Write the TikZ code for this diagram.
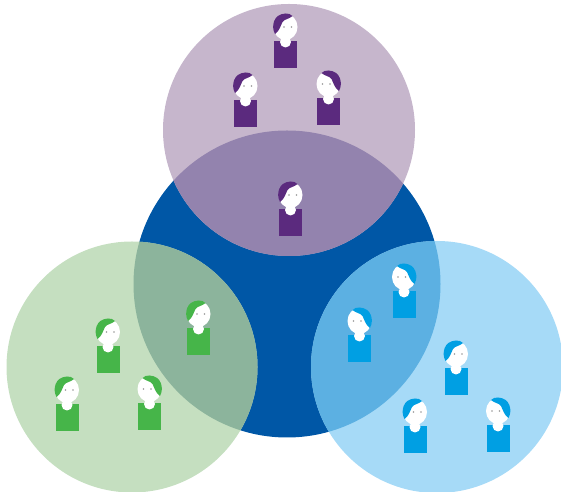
\documentclass[tikz,border=0pt]{standalone}
\usepackage{tikz}
\definecolor{purplelight}{HTML}{C6B6CC}
\definecolor{purplemix}{HTML}{9383AE}
\definecolor{purpledark}{HTML}{5B2A7E}
\definecolor{greenlight}{HTML}{C5DFC0}
\definecolor{greenmix}{HTML}{8CB49C}
\definecolor{greendark}{HTML}{46B549}
\definecolor{bluelight}{HTML}{A6DAF7}
\definecolor{bluemix}{HTML}{5CB0E2}
\definecolor{bluedark}{HTML}{009FE3}
\definecolor{bluecore}{HTML}{0057A6}
\tikzset{
  pics/person/.style={code={
    \fill[#1] (-11.5,0) rectangle (11.5,27);
    \fill[white] (0,1) circle (5.5);
    \fill[white] (0,-14) ellipse (12 and 13);
    \fill[#1] (-10.5,-7) .. controls (-14.5,-14) and (-12.5,-27) .. (0,-27.5)
      .. controls (3,-27.5) and (5,-27) .. (7,-25)
      .. controls (4,-22) and (-1,-22) .. (-3,-19)
      .. controls (-5,-15) and (-6,-10) .. (-10.5,-7) -- cycle;
    \fill[gray!80] (-1.5,-14) circle (0.9);
    \fill[gray!80] (6,-14) circle (0.9);
  }}
}
\begin{document}
\begin{tikzpicture}[x=0.02cm, y=-0.02cm]
\useasboundingbox (0,0) rectangle (561,492);
% core and the three outer rings
\fill[bluecore] (287,284) circle (153.5);
\fill[purplelight] (289,130) circle (126);
\fill[greenlight] (132,367) circle (125.5);
\fill[bluelight] (437,367) circle (126);
% overlaps
\begin{scope}
\clip (287,284) circle (153.5);
\fill[purplemix] (289,130) circle (126);
\fill[greenmix] (132,367) circle (125.5);
\fill[bluemix] (437,367) circle (126);
\end{scope}
% people: x, y, facing
\foreach \x/\y/\m in {285.5/41/1, 245.5/100/1, 328.5/98/-1, 290.5/209/1}
  \pic[xscale=\m] at (\x,\y) {person=purpledark};
\foreach \x/\y/\m in {108/346/1, 67/404/1, 149.5/403/-1, 198.5/328/1}
  \pic[xscale=\m] at (\x,\y) {person=greendark};
\foreach \x/\y/\m in {404/291/-1, 359.5/335/-1, 456/368/1, 415/426/1, 498/425/-1}
  \pic[xscale=\m] at (\x,\y) {person=bluedark};
\end{tikzpicture}
\end{document}
